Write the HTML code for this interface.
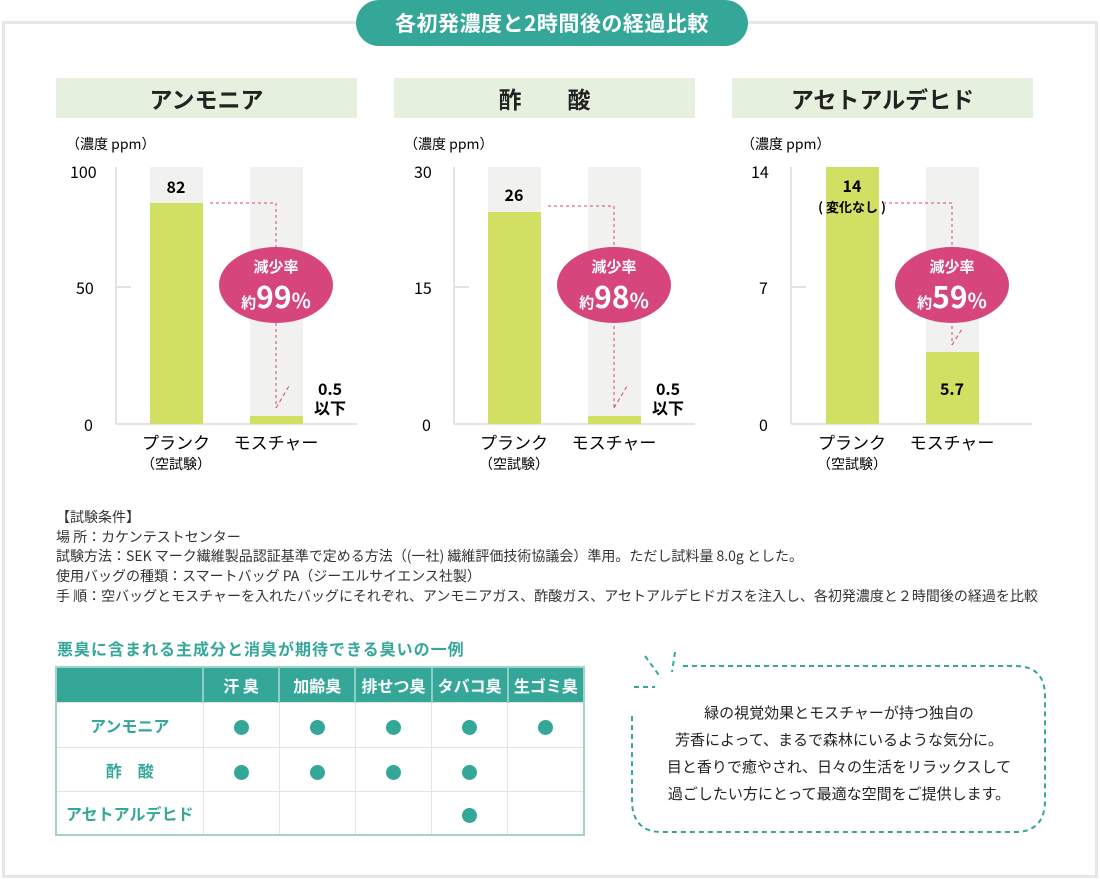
<!DOCTYPE html>
<html><head><meta charset="utf-8"><style>
body{margin:0;width:1100px;height:880px;background:#fff;font-family:"Liberation Sans","Noto Sans CJK JP",sans-serif;position:relative;overflow:hidden;color:#222}
.a{position:absolute}
.frame{left:2px;top:21px;border:3px solid #e6e6e6;box-sizing:border-box;width:1096px;height:857px}
.pill{left:356px;top:0;width:392px;height:46px;background:#35a799;border-radius:23px;color:#fff;font-size:21px;font-weight:bold;text-align:center;line-height:46px;font-family:"Noto Sans CJK JP",sans-serif;letter-spacing:0.5px}
.hd{top:78px;width:301px;height:40px;background:#e6f0df;text-align:center;line-height:40px;font-size:23px;font-weight:bold;font-family:"Noto Sans CJK JP",sans-serif}
.t{font-family:"Noto Sans CJK JP",sans-serif}
table{border-collapse:collapse;position:absolute;left:55px;top:666px;font-family:"Noto Sans CJK JP",sans-serif;table-layout:fixed;width:530px}
td{border:1px solid #e3e3e3;text-align:center;padding:0}
th{background:#35a799;color:#fff;font-size:16px;height:34px;border-left:2px solid #8fcfc6;font-weight:bold;padding:0}
.rl{color:#35a799;font-weight:bold;font-size:16px}
.d{display:inline-block;width:15px;height:15px;border-radius:50%;background:#35a799;vertical-align:middle}
</style></head><body>
<div class="a frame"></div>
<div class="a pill">各初発濃度と2時間後の経過比較</div>
<div class="a hd" style="left:56px">アンモニア</div>
<div class="a hd" style="left:394px">酢　　酸</div>
<div class="a hd" style="left:732px">アセトアルデヒド</div>

<svg class="a" style="left:0;top:0" width="1100" height="480" font-family="Noto Sans CJK JP, sans-serif">
<text x="66" y="149" font-size="14">（濃度 ppm）</text>
<line x1="116" y1="167" x2="116" y2="424" stroke="#e3e3e3" stroke-width="2"/>
<line x1="116" y1="424" x2="357" y2="424" stroke="#e3e3e3" stroke-width="2"/>
<line x1="116" y1="287" x2="131" y2="287" stroke="#e3e3e3" stroke-width="2"/>
<rect x="150" y="167" width="53" height="257" fill="#f1f1ef"/>
<rect x="250" y="167" width="53" height="257" fill="#f1f1ef"/>
<text x="70" y="178" font-size="16">100</text>
<text x="76" y="294" font-size="16">50</text>
<text x="84" y="431" font-size="16">0</text>
<rect x="150" y="203" width="53" height="221" fill="#d1e062"/>
<rect x="250" y="416" width="53" height="8" fill="#d1e062"/>
<text x="176" y="193" font-size="16" font-weight="bold" text-anchor="middle">82</text>
<path d="M210 203H276V408" stroke="#d6457c" stroke-dasharray="3,3" fill="none"/>
<path d="M276 408L289 386" stroke="#d6457c" stroke-dasharray="4,3" fill="none"/>
<ellipse cx="276" cy="285" rx="57" ry="38" fill="#d6457c"/>
<text x="276" y="272" font-size="15" font-weight="bold" fill="#fff" text-anchor="middle">減少率</text>
<text x="276" y="308" fill="#fff" text-anchor="middle" font-weight="bold"><tspan font-size="15">約</tspan><tspan font-size="30">99</tspan><tspan font-size="20">%</tspan></text>
<text x="330" y="395" font-size="16" font-weight="bold" text-anchor="middle">0.5</text>
<text x="330" y="414" font-size="16" font-weight="bold" text-anchor="middle">以下</text>
<text x="176" y="449" font-size="17" text-anchor="middle">プランク</text>
<text x="176" y="469" font-size="14" text-anchor="middle">（空試験）</text>
<text x="276" y="449" font-size="17" text-anchor="middle">モスチャー</text>

<g transform="translate(338,0)">
<text x="66" y="149" font-size="14">（濃度 ppm）</text>
<line x1="116" y1="167" x2="116" y2="424" stroke="#e3e3e3" stroke-width="2"/>
<line x1="116" y1="424" x2="357" y2="424" stroke="#e3e3e3" stroke-width="2"/>
<line x1="116" y1="287" x2="131" y2="287" stroke="#e3e3e3" stroke-width="2"/>
<rect x="150" y="167" width="53" height="257" fill="#f1f1ef"/>
<rect x="250" y="167" width="53" height="257" fill="#f1f1ef"/>
<text x="76" y="178" font-size="16">30</text>
<text x="76" y="294" font-size="16">15</text>
<text x="84" y="431" font-size="16">0</text>
<rect x="150" y="212" width="53" height="212" fill="#d1e062"/>
<rect x="250" y="416" width="53" height="8" fill="#d1e062"/>
<text x="176" y="201" font-size="16" font-weight="bold" text-anchor="middle">26</text>
<path d="M210 206H276V408" stroke="#d6457c" stroke-dasharray="3,3" fill="none"/>
<path d="M276 408L289 386" stroke="#d6457c" stroke-dasharray="4,3" fill="none"/>
<ellipse cx="276" cy="285" rx="57" ry="38" fill="#d6457c"/>
<text x="276" y="272" font-size="15" font-weight="bold" fill="#fff" text-anchor="middle">減少率</text>
<text x="276" y="308" fill="#fff" text-anchor="middle" font-weight="bold"><tspan font-size="15">約</tspan><tspan font-size="30">98</tspan><tspan font-size="20">%</tspan></text>
<text x="330" y="395" font-size="16" font-weight="bold" text-anchor="middle">0.5</text>
<text x="330" y="414" font-size="16" font-weight="bold" text-anchor="middle">以下</text>
<text x="176" y="449" font-size="17" text-anchor="middle">プランク</text>
<text x="176" y="469" font-size="14" text-anchor="middle">（空試験）</text>
<text x="276" y="449" font-size="17" text-anchor="middle">モスチャー</text>
</g>

<g transform="translate(675,0)">
<text x="66" y="149" font-size="14">（濃度 ppm）</text>
<line x1="116" y1="167" x2="116" y2="424" stroke="#e3e3e3" stroke-width="2"/>
<line x1="116" y1="424" x2="357" y2="424" stroke="#e3e3e3" stroke-width="2"/>
<line x1="116" y1="287" x2="131" y2="287" stroke="#e3e3e3" stroke-width="2"/>
<rect x="251" y="167" width="53" height="257" fill="#f1f1ef"/>
<text x="76" y="178" font-size="16">14</text>
<text x="84" y="294" font-size="16">7</text>
<text x="84" y="431" font-size="16">0</text>
<rect x="151" y="167" width="53" height="257" fill="#d1e062"/>
<rect x="251" y="352" width="53" height="72" fill="#d1e062"/>
<text x="177" y="192" font-size="16" font-weight="bold" text-anchor="middle">14</text>
<text x="177" y="212" font-size="13" font-weight="bold" text-anchor="middle">( 変化なし )</text>
<path d="M208 203H277V345" stroke="#d6457c" stroke-dasharray="3,3" fill="none"/>
<path d="M277 345L287 329" stroke="#d6457c" stroke-dasharray="4,3" fill="none"/>
<ellipse cx="277" cy="285" rx="57" ry="38" fill="#d6457c"/>
<text x="277" y="272" font-size="15" font-weight="bold" fill="#fff" text-anchor="middle">減少率</text>
<text x="277" y="308" fill="#fff" text-anchor="middle" font-weight="bold"><tspan font-size="15">約</tspan><tspan font-size="30">59</tspan><tspan font-size="20">%</tspan></text>
<text x="277" y="395" font-size="16" font-weight="bold" text-anchor="middle">5.7</text>
<text x="177" y="449" font-size="17" text-anchor="middle">プランク</text>
<text x="177" y="469" font-size="14" text-anchor="middle">（空試験）</text>
<text x="277" y="449" font-size="17" text-anchor="middle">モスチャー</text>
</g>
<line x1="40" y1="495" x2="1060" y2="495" stroke="#e6e6e6"/>
</svg>

<div class="a t" style="left:56px;top:508px;font-size:14px;line-height:19.7px;color:#333;white-space:nowrap">【試験条件】<br>場 所：カケンテストセンター<br>試験方法：SEK マーク繊維製品認証基準で定める方法（(一社) 繊維評価技術協議会）準用。ただし試料量 8.0g とした。<br>使用バッグの種類：スマートバッグ PA（ジーエルサイエンス社製）<br>手 順：空バッグとモスチャーを入れたバッグにそれぞれ、アンモニアガス、酢酸ガス、アセトアルデヒドガスを注入し、各初発濃度と２時間後の経過を比較</div>

<div class="a t" style="left:57px;top:636px;font-size:16px;font-weight:bold;color:#35a799;letter-spacing:1px">悪臭に含まれる主成分と消臭が期待できる臭いの一例</div>
<table style="border:2px solid #9fd3cb">
<tr><th style="width:145px;border-left:none"></th><th>汗 臭</th><th>加齢臭</th><th>排せつ臭</th><th>タバコ臭</th><th>生ゴミ臭</th></tr>
<tr style="height:45px"><td class="rl">アンモニア</td><td><span class="d"></span></td><td><span class="d"></span></td><td><span class="d"></span></td><td><span class="d"></span></td><td><span class="d"></span></td></tr>
<tr style="height:44px"><td class="rl">酢　酸</td><td><span class="d"></span></td><td><span class="d"></span></td><td><span class="d"></span></td><td><span class="d"></span></td><td></td></tr>
<tr style="height:43px"><td class="rl">アセトアルデヒド</td><td></td><td></td><td></td><td><span class="d"></span></td><td></td></tr>
</table>

<svg class="a" style="left:620px;top:640px" width="440" height="200">
<path d="M63 26H395Q425 26 425 56V160Q425 192 395 192H42Q12 192 12 160V74" stroke="#35a799" stroke-width="2" stroke-dasharray="5,4" fill="none"/>
<path d="M14 47H35M25 16L41 38M55 12L52 32" stroke="#35a799" stroke-width="2" stroke-dasharray="5,4" fill="none"/>
</svg>
<div class="a t" style="left:632px;top:699px;width:414px;text-align:center;font-size:15px;line-height:27px;color:#222;white-space:nowrap">緑の視覚効果とモスチャーが持つ独自の<br>芳香によって、まるで森林にいるような気分に。<br>目と香りで癒やされ、日々の生活をリラックスして<br>過ごしたい方にとって最適な空間をご提供します。</div>
</body></html>
